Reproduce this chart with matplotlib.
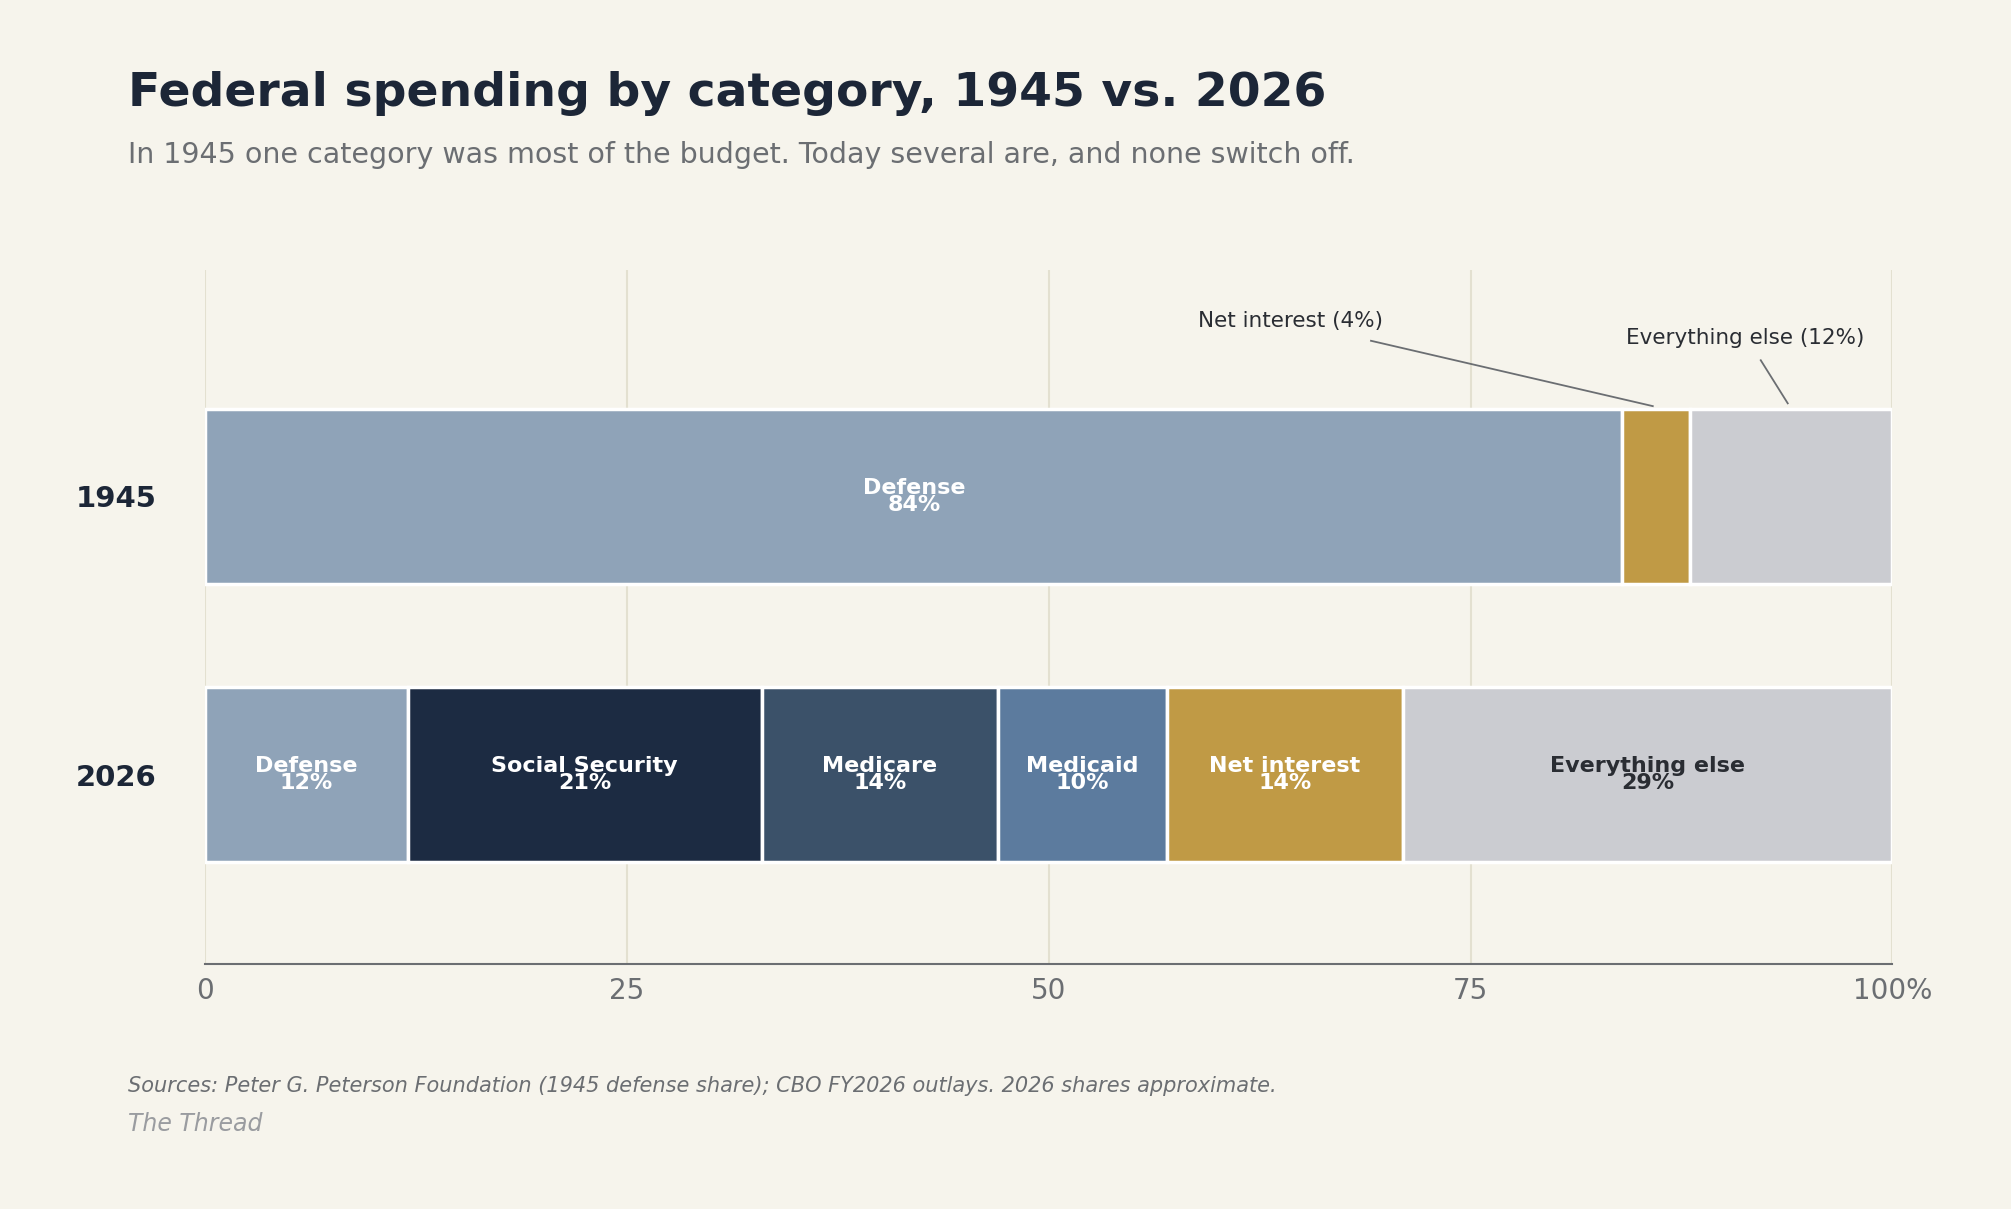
import numpy as np
import matplotlib.pyplot as plt

# Data
years = ['1945', '2026']
cats_1945 = ['Defense', 'Net interest', 'Everything else']
vals_1945 = [84, 4, 12]
cats_2026 = ['Defense', 'Social Security', 'Medicare', 'Medicaid', 'Net interest', 'Everything else']
vals_2026 = [12, 21, 14, 10, 14, 29]

colors = {'Defense': '#8fa3b8', 'Social Security': '#1c2b42', 'Medicare': '#3b5169',
          'Medicaid': '#5c7b9e', 'Net interest': '#c09a45', 'Everything else': '#cbccd1'}
bg = '#f6f4ec'

fig = plt.figure(figsize=(20.11, 12.09), dpi=100, facecolor=bg)
ax = fig.add_axes([0.102, 0.203, 0.839, 0.574], facecolor=bg)

h = 0.63
ypos = {'1945': 1, '2026': 0}

def draw_row(y, cats, vals, label_all):
    left = 0
    for c, v in zip(cats, vals):
        ax.barh(y, v, left=left, height=h, color=colors[c], edgecolor='white', linewidth=2.5, zorder=3)
        if label_all or c == 'Defense':
            tc = '#2a2d33' if c == 'Everything else' else 'white'
            ax.text(left + v / 2, y, f'{c}\n{v}%', ha='center', va='center', color=tc,
                    fontsize=16, fontweight='bold', linespacing=0.85, zorder=4)
        left += v

draw_row(ypos['1945'], cats_1945, vals_1945, False)
draw_row(ypos['2026'], cats_2026, vals_2026, True)

# Annotations for small 1945 segments
ax.text(64.3, 1.63, f'Net interest ({vals_1945[1]}%)', ha='center', va='center', fontsize=15.5, color='#2a2d33')
ax.plot([69.1, 85.8], [1.56, 1.325], color='#6b6e72', lw=1.3, zorder=5)
ax.text(91.3, 1.57, f'Everything else ({vals_1945[2]}%)', ha='center', va='center', fontsize=15.5, color='#2a2d33')
ax.plot([92.2, 93.8], [1.49, 1.335], color='#6b6e72', lw=1.3, zorder=5)

ax.set_xlim(0, 100)
ax.set_ylim(-0.68, 1.816)
ax.set_xticks([0, 25, 50, 75, 100])
ax.set_xticklabels(['0', '25', '50', '75', '100%'], fontsize=20, color='#6b6e72')
ax.set_yticks([ypos[y] for y in years])
ax.set_yticklabels(years, fontsize=21, fontweight='bold', color='#1c2637')
ax.tick_params(axis='both', length=0, pad=10)
ax.tick_params(axis='y', pad=35)
ax.grid(axis='x', color='#e3e0d0', lw=1.5, zorder=0)
for s in ['top', 'right', 'left']:
    ax.spines[s].set_visible(False)
ax.spines['bottom'].set_color('#6b6e72')
ax.spines['bottom'].set_linewidth(1.5)

fig.text(0.0638, 0.923, 'Federal spending by category, 1945 vs. 2026', fontsize=34, fontweight='bold',
         color='#1c2637', va='center')
fig.text(0.0638, 0.872, 'In 1945 one category was most of the budget. Today several are, and none switch off.',
         fontsize=20.5, color='#6b6e72', va='center')
fig.text(0.0638, 0.102, 'Sources: Peter G. Peterson Foundation (1945 defense share); CBO FY2026 outlays. 2026 shares approximate.',
         fontsize=15, style='italic', color='#6b6e72', va='center')
fig.text(0.0638, 0.070, 'The Thread', fontsize=17, style='italic', color='#9a9ca0', va='center')

plt.savefig('out.png', dpi=100, facecolor=bg)
